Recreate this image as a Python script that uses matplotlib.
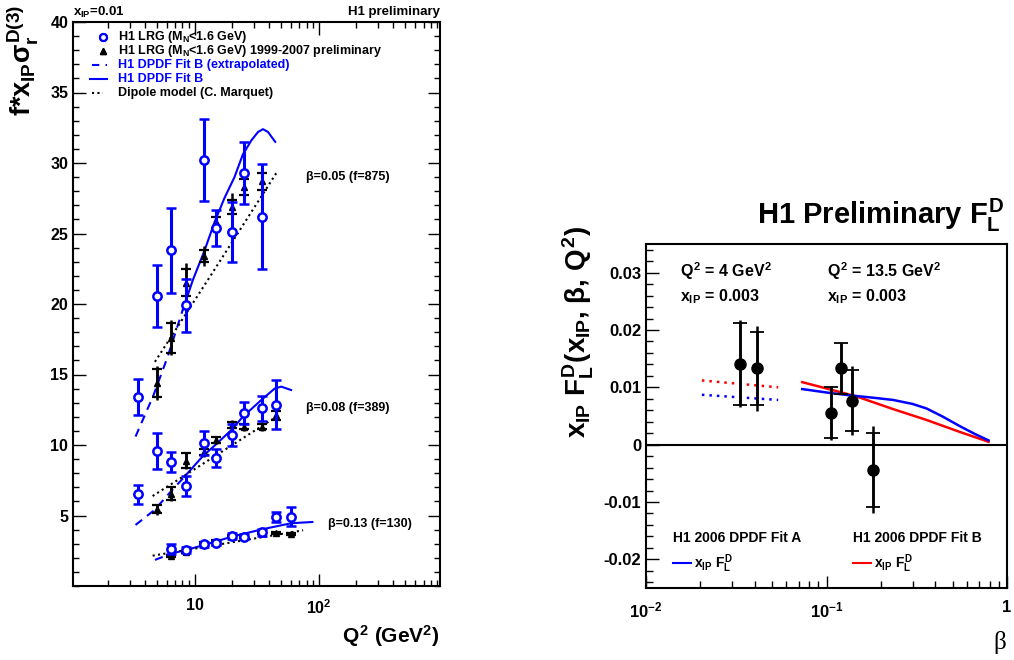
import numpy as np
import matplotlib
matplotlib.use('Agg')
import matplotlib.pyplot as plt
from matplotlib.ticker import MultipleLocator, LogLocator, NullFormatter, FixedLocator, FixedFormatter
from matplotlib.lines import Line2D

plt.rcParams['font.family'] = ['Liberation Sans', 'DejaVu Sans']
plt.rcParams['font.weight'] = 'bold'
plt.rcParams['mathtext.fontset'] = 'custom'
plt.rcParams['mathtext.rm'] = 'Liberation Sans:bold'
plt.rcParams['mathtext.it'] = 'Liberation Sans:bold'
plt.rcParams['mathtext.bf'] = 'Liberation Sans:bold'
plt.rcParams['mathtext.sf'] = 'Liberation Sans:bold'

# ---- left: reduced cross section vs Q2, x_IP = 0.01 ----
# H1 LRG (M_N < 1.6 GeV), published
q2_lrg_05 = [3.5, 5, 6.5, 8.5, 12, 15, 20, 25, 35]
sig_lrg_05 = [13.4, 20.6, 23.8, 19.9, 30.2, 25.4, 25.1, 29.3, 26.2]
err_lrg_05 = [1.3, 2.2, 3.0, 1.9, 2.9, 1.3, 2.1, 2.2, 3.75]

q2_lrg_08 = [3.5, 5, 6.5, 8.5, 12, 15, 20, 25, 35, 45]
sig_lrg_08 = [6.5, 9.57, 8.77, 7.11, 10.12, 9.06, 10.71, 12.25, 12.6, 12.84]
err_lrg_08 = [0.65, 1.27, 0.7, 0.7, 0.85, 0.63, 0.75, 0.78, 0.87, 1.74]

q2_lrg_13 = [6.5, 8.5, 12, 15, 20, 25, 35, 45, 60]
sig_lrg_13 = [2.6, 2.55, 2.95, 3.03, 3.55, 3.5, 3.81, 4.92, 4.92]
err_lrg_13 = [0.35, 0.2, 0.2, 0.15, 0.2, 0.2, 0.25, 0.35, 0.65]

# H1 LRG 1999-2007 preliminary (stat, total errors)
q2_new_05 = [5, 6.5, 8.5, 12, 15, 20, 25, 35]
sig_new_05 = [14.4, 17.6, 21.5, 23.4, 25.8, 26.9, 28.3, 28.7]
stat_new_05 = [1.0, 1.05, 0.95, 0.4, 0.4, 0.5, 0.6, 0.6]
tot_new_05 = [1.2, 1.25, 1.4, 0.7, 0.9, 0.95, 0.85, 1.2]

q2_new_08 = [5, 6.5, 8.5, 12, 15, 20, 25, 35, 45]
sig_new_08 = [5.45, 6.55, 8.9, 9.5, 10.35, 11.4, 11.3, 11.3, 12.1]
stat_new_08 = [0.3, 0.45, 0.5, 0.2, 0.2, 0.2, 0.2, 0.2, 0.3]
tot_new_08 = [0.4, 0.55, 0.6, 0.35, 0.3, 0.35, 0.3, 0.3, 0.45]

q2_new_13 = [6.5, 8.5, 12, 15, 20, 25, 35, 45, 60]
sig_new_13 = [2.13, 2.43, 3.03, 3.21, 3.55, 3.5, 3.74, 3.78, 3.7]
stat_new_13 = [0.07, 0.07, 0.07, 0.07, 0.07, 0.07, 0.07, 0.07, 0.07]
tot_new_13 = [0.1, 0.1, 0.1, 0.1, 0.1, 0.1, 0.1, 0.1, 0.1]

# H1 DPDF Fit B, extrapolated part and fitted range
q2_fit_05_ext = [3.35, 4.66, 6.1, 8.05]
fit_05_ext = [10.6, 13.5, 16.3, 19.6]
q2_fit_05 = [8.05, 9.7, 12.05, 14.5, 17.4, 21.0, 24.5, 28.7, 32.5, 35.6, 39.1, 44.7]
fit_05 = [19.6, 21.7, 23.8, 25.8, 27.5, 29.0, 30.6, 31.6, 32.2, 32.4, 32.2, 31.5]

q2_fit_08_ext = [3.35, 4.76, 6.3, 8.3]
fit_08_ext = [4.33, 5.39, 6.6, 7.75]
q2_fit_08 = [8.3, 11.7, 14.7, 19.8, 24.5, 34.5, 44.2, 50, 60]
fit_08 = [7.75, 9.22, 10.0, 11.06, 12.0, 13.19, 14.0, 14.14, 13.9]

q2_fit_13_ext = [4.8, 6.5]
fit_13_ext = [1.85, 2.3]
q2_fit_13 = [6.5, 8.5, 12, 20, 35, 60, 89]
fit_13 = [2.3, 2.55, 2.91, 3.5, 4.02, 4.45, 4.54]

# dipole model (C. Marquet)
q2_dip_05 = [4.8, 12.8, 46.9]
dip_05 = [15.9, 21.7, 29.45]
q2_dip_08 = [4.6, 45.6]
dip_08 = [6.38, 12.0]
q2_dip_13 = [4.6, 75]
dip_13 = [2.15, 3.95]

# ---- right: x_IP F_L^D, x_IP = 0.003 ----
beta_fl = [0.0333, 0.041, 0.106, 0.12, 0.138, 0.1815]
fl = [0.0141, 0.0133, 0.0056, 0.0133, 0.0077, -0.0044]
fl_stat = [0.0071, 0.0064, 0.0045, 0.0044, 0.0054, 0.0065]
fl_tot = [0.0076, 0.0074, 0.0047, 0.0045, 0.0060, 0.0076]

beta_q4 = [0.0204, 0.054]
fitA_q4 = [0.0087, 0.0078]
fitB_q4 = [0.0112, 0.0100]
beta_q135_A = [0.0734, 0.1, 0.135, 0.18, 0.234, 0.3, 0.359, 0.44, 0.55, 0.67, 0.79]
fitA_q135 = [0.0097, 0.0091, 0.0086, 0.0082, 0.0078, 0.0071, 0.0063, 0.0049, 0.0032, 0.0018, 0.00075]
beta_q135_B = [0.0734, 0.1, 0.147, 0.234, 0.359, 0.55, 0.79]
fitB_q135 = [0.0109, 0.0098, 0.0084, 0.0062, 0.0043, 0.0022, 0.0005]

W, H = 1014, 660
fig = plt.figure(figsize=(W / 100, H / 100), dpi=100)

ax1 = fig.add_axes([73 / W, 74 / H, 367 / W, 564 / H])
ax2 = fig.add_axes([646 / W, 72 / H, 361 / W, 344 / H])

dot = (0, (1, 1.6))
dash = (0, (4, 3))

for q, f in [(q2_fit_05_ext, fit_05_ext), (q2_fit_08_ext, fit_08_ext), (q2_fit_13_ext, fit_13_ext)]:
    ax1.plot(q, f, color='blue', lw=1.5, linestyle=dash, zorder=2)
for q, f in [(q2_fit_05, fit_05), (q2_fit_08, fit_08), (q2_fit_13, fit_13)]:
    ax1.plot(q, f, color='blue', lw=1.5, zorder=2)
for q, f in [(q2_dip_05, dip_05), (q2_dip_08, dip_08), (q2_dip_13, dip_13)]:
    ax1.plot(q, f, color='black', lw=1.5, linestyle=dot, zorder=2)

for q, s, st, tt in [(q2_new_05, sig_new_05, stat_new_05, tot_new_05),
                     (q2_new_08, sig_new_08, stat_new_08, tot_new_08),
                     (q2_new_13, sig_new_13, stat_new_13, tot_new_13)]:
    ax1.errorbar(q, s, yerr=tt, fmt='^', color='black', ms=5, elinewidth=1.8, capsize=0, zorder=3)
    ax1.errorbar(q, s, yerr=st, fmt='none', ecolor='black', elinewidth=1.8, capsize=3.5, capthick=1.6, zorder=3)

for q, s, e in [(q2_lrg_05, sig_lrg_05, err_lrg_05),
                (q2_lrg_08, sig_lrg_08, err_lrg_08),
                (q2_lrg_13, sig_lrg_13, err_lrg_13)]:
    ax1.errorbar(q, s, yerr=e, fmt='o', color='blue', mfc='white', mec='blue', ms=6, mew=1.8,
                 elinewidth=2.2, capsize=3.5, capthick=1.8, zorder=4)

ax1.set_xscale('log')
ax1.set_xlim(1.05, 950)
ax1.set_ylim(0, 40)
ax1.xaxis.set_major_locator(FixedLocator([10, 100]))
ax1.xaxis.set_major_formatter(FixedFormatter(['10', r'$10^{2}$']))
ax1.xaxis.set_minor_locator(LogLocator(subs=np.arange(2, 10)))
ax1.xaxis.set_minor_formatter(NullFormatter())
ax1.yaxis.set_major_locator(FixedLocator([5, 10, 15, 20, 25, 30, 35, 40]))
ax1.yaxis.set_minor_locator(MultipleLocator(1))
ax1.tick_params(which='both', direction='in', top=True, right=True, labelsize=11.5, width=1)
ax1.tick_params(which='major', length=9)
ax1.tick_params(which='minor', length=4.5)
ax1.tick_params(axis='x', pad=9)
for sp in ax1.spines.values():
    sp.set_linewidth(1.5)

ax1.text(0.635, 0.725, 'β=0.05 (f=875)', transform=ax1.transAxes, fontsize=9, va='center')
ax1.text(0.635, 0.315, 'β=0.08 (f=389)', transform=ax1.transAxes, fontsize=9, va='center')
ax1.text(0.695, 0.11, 'β=0.13 (f=130)', transform=ax1.transAxes, fontsize=9, va='center')

# legend rows, laid out by hand in pixel positions so the spacing stays even
def px(x, y):
    return (x - 73) / 367, (586 - y) / 564

leg_rows = [
    (r'H1 LRG (M$_{N}$<1.6 GeV)', 'black', dict(ls='none', marker='o', mfc='white', mec='blue', ms=5, mew=1.6), (103, 103)),
    (r'H1 LRG (M$_{N}$<1.6 GeV) 1999-2007 preliminary', 'black', dict(ls='none', marker='^', color='black', ms=4.5), (103, 103)),
    ('H1 DPDF Fit B (extrapolated)', 'blue', dict(color='blue', lw=1.5, linestyle=(0, (3.5, 3))), (92, 107)),
    ('H1 DPDF Fit B', 'blue', dict(color='blue', lw=1.5), (90, 107)),
    ('Dipole model (C. Marquet)', 'black', dict(color='black', lw=1.5, linestyle=dot), (92, 103)),
]
for i, (lab, col, style, (x0, x1)) in enumerate(leg_rows):
    yrow = 37 + 14 * i
    xa, ya = px(x0, yrow)
    xb, _ = px(x1, yrow)
    ax1.add_line(Line2D([xa, xb], [ya, ya], transform=ax1.transAxes, **style))
    xt, _ = px(118, yrow)
    ax1.text(xt, ya, lab, transform=ax1.transAxes, fontsize=9, color=col, va='center', ha='left')

fig.text(73 / W, 1 - 12 / H, r'$x_{IP}$=0.01', fontsize=9.5, va='center', ha='left')
fig.text(440 / W, 1 - 12 / H, 'H1 preliminary', fontsize=9.5, va='center', ha='right')
fig.text(23 / W, 1 - 5 / H, r'f*$x_{IP}\sigma_{r}^{D(3)}$', rotation=90, fontsize=19.5, ha='center', va='top')
fig.text(440 / W, 1 - 636 / H, r'$Q^{2}$ (GeV$^{2}$)', fontsize=15, ha='right', va='center')

# right panel
ax2.axhline(0, color='black', lw=1.5, zorder=1)
ax2.plot(beta_q4, fitB_q4, color='red', lw=1.8, linestyle=(0, (1, 2)), zorder=2)
ax2.plot(beta_q4, fitA_q4, color='blue', lw=1.8, linestyle=(0, (1, 2)), zorder=2)
ax2.plot(beta_q135_B, fitB_q135, color='red', lw=1.8, zorder=2)
ax2.plot(beta_q135_A, fitA_q135, color='blue', lw=1.8, zorder=2)

ax2.errorbar(beta_fl, fl, yerr=fl_tot, fmt='o', color='black', ms=8, elinewidth=1.8, capsize=0, zorder=3)
ax2.errorbar(beta_fl, fl, yerr=fl_stat, fmt='none', ecolor='black', elinewidth=1.8, capsize=5,
             capthick=1.3, zorder=3)

ax2.set_xscale('log')
ax2.set_xlim(0.01, 1)
ax2.set_ylim(-0.025, 0.035)
ax2.xaxis.set_major_locator(FixedLocator([0.01, 0.1, 1]))
ax2.xaxis.set_major_formatter(FixedFormatter([r'$10^{-2}$', r'$10^{-1}$', '1']))
ax2.xaxis.set_minor_locator(LogLocator(subs=np.arange(2, 10)))
ax2.xaxis.set_minor_formatter(NullFormatter())
ax2.yaxis.set_major_locator(FixedLocator([-0.02, -0.01, 0, 0.01, 0.02, 0.03]))
ax2.yaxis.set_major_formatter(FixedFormatter(['-0.02', '-0.01', '0', '0.01', '0.02', '0.03']))
ax2.yaxis.set_minor_locator(MultipleLocator(0.002))
ax2.tick_params(which='both', direction='in', labelsize=12, width=1)
ax2.tick_params(which='major', length=9)
ax2.tick_params(which='minor', length=5)
ax2.tick_params(axis='x', pad=9)
for sp in ax2.spines.values():
    sp.set_linewidth(1.5)

fig.text(680 / W, 1 - 271 / H, r'$Q^{2}$ = 4 GeV$^{2}$', fontsize=11.5, va='center')
fig.text(680 / W, 1 - 297 / H, r'$x_{IP}$ = 0.003', fontsize=11.5, va='center')
fig.text(827 / W, 1 - 271 / H, r'$Q^{2}$ = 13.5 GeV$^{2}$', fontsize=11.5, va='center')
fig.text(827 / W, 1 - 297 / H, r'$x_{IP}$ = 0.003', fontsize=11.5, va='center')

legA = ax2.legend([Line2D([], [], color='blue', lw=1.5)], [r'$x_{IP}$ $F_{L}^{D}$'],
                  title='H1 2006 DPDF Fit A', loc='upper left', bbox_to_anchor=(0.075, 0.165),
                  frameon=False, fontsize=10, title_fontproperties={'size': 10, 'weight': 'bold'},
                  alignment='left', handlelength=1.3, handletextpad=0.2, borderpad=0, borderaxespad=0)
ax2.add_artist(legA)
ax2.legend([Line2D([], [], color='red', lw=1.5)], [r'$x_{IP}$ $F_{L}^{D}$'],
           title='H1 2006 DPDF Fit B', loc='upper left', bbox_to_anchor=(0.573, 0.165),
           frameon=False, fontsize=10, title_fontproperties={'size': 10, 'weight': 'bold'},
           alignment='left', handlelength=1.3, handletextpad=0.2, borderpad=0, borderaxespad=0)

fig.text(1005 / W, 1 - 215 / H, r'H1 Preliminary $F_{L}^{D}$', fontsize=21, ha='right', va='center')
fig.text(578 / W, 1 - 226 / H, r'$x_{IP}$ $F_{L}^{D}$($x_{IP}$, β, $Q^{2}$)', rotation=90,
         fontsize=20, ha='center', va='top')
fig.text(1000 / W, 1 - 643 / H, 'β', family='Liberation Serif', fontweight='normal',
         fontsize=18, ha='center', va='center')

fig.savefig('out.png', dpi=100)
